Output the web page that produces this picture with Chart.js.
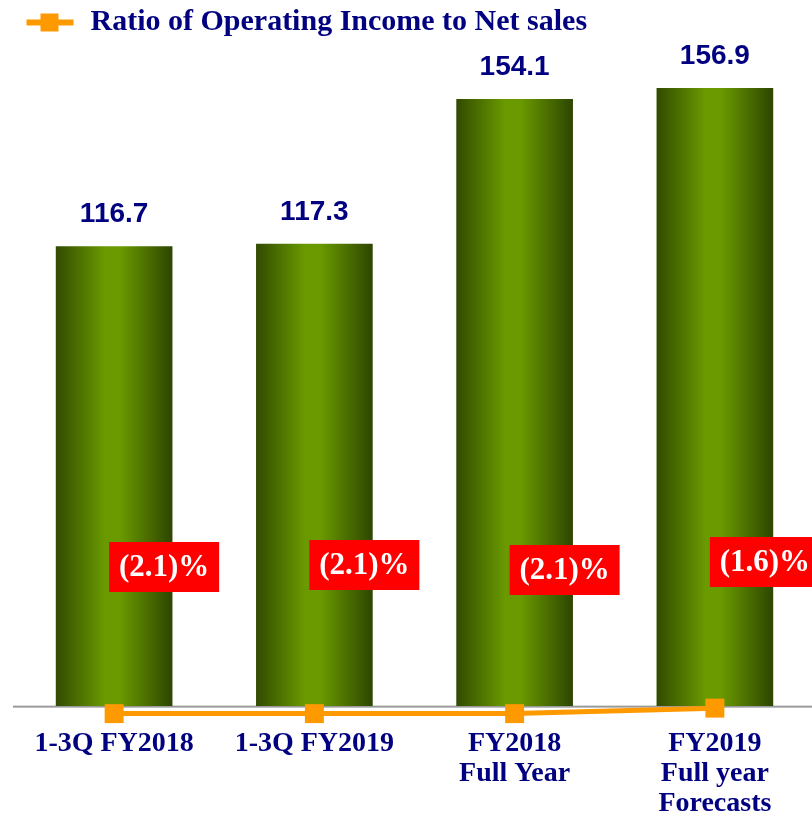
<!DOCTYPE html>
<html>
<head>
<meta charset="utf-8">
<script src="https://cdn.jsdelivr.net/npm/chart.js@4/dist/chart.umd.min.js"></script>
<style>
  html, body { margin: 0; padding: 0; background: #fff; overflow: hidden; }
  #ratioChart { display: block; }
</style>
</head>
<body>
<canvas id="ratioChart" width="816" height="819"></canvas>
<script>
// chart data
const categories = [['1-3Q FY2018'], ['1-3Q FY2019'], ['FY2018', 'Full Year'], ['FY2019', 'Full year', 'Forecasts']];
const netSales = [116.7, 117.3, 154.1, 156.9];
const ratioValues = [-2.1, -2.1, -2.1, -1.6];
const ratioLabel = 'Ratio of Operating Income to Net sales';

const NAVY = '#000080';
const ORANGE = '#ff9900';
const BAR_W = 116;

// legend marker: line with a square on it
const marker = document.createElement('canvas');
marker.width = 54;
marker.height = 20;
const mctx = marker.getContext('2d');
mctx.fillStyle = ORANGE;
mctx.fillRect(5, 7, 47, 6);
mctx.fillRect(19, 1, 18, 18);

function barGradient(context) {
    const chart = context.chart;
    if (!chart.scales.x || context.dataIndex === undefined) return '#6a9a00';
    const cx = chart.scales.x.getPixelForValue(context.dataIndex);
    if (!isFinite(cx)) return '#6a9a00';
    const g = chart.ctx.createLinearGradient(cx - BAR_W / 2, 0, cx + BAR_W / 2, 0);
    g.addColorStop(0, '#324b00');
    g.addColorStop(0.42, '#6a9a00');
    g.addColorStop(0.55, '#6a9a00');
    g.addColorStop(1, '#2e4600');
    return g;
}

// gray base line at zero
const baseLine = {
    id: 'baseLine',
    beforeDatasetsDraw(chart) {
        const c = chart.ctx;
        const y = chart.scales.y.getPixelForValue(0);
        c.save();
        c.fillStyle = '#9a9a9a';
        c.fillRect(chart.chartArea.left - 1, y, chart.chartArea.right - chart.chartArea.left + 1, 2);
        c.restore();
    }
};

// value labels above bars and red boxes for the ratio
const labels = {
    id: 'labels',
    afterDatasetsDraw(chart) {
        const c = chart.ctx;
        c.save();
        const bars = chart.getDatasetMeta(0).data;
        c.font = 'bold 28px "Liberation Sans", Arial, sans-serif';
        c.fillStyle = NAVY;
        c.textAlign = 'center';
        c.textBaseline = 'middle';
        bars.forEach((b, i) => {
            c.fillText(netSales[i].toFixed(1), b.x, b.y - 32);
        });

        const boxDy = [1, -1, 4, -4];
        c.font = 'bold 31px "Liberation Serif", "Times New Roman", serif';
        bars.forEach((b, i) => {
            const bx = b.x - 5, by = 541 + boxDy[i];
            c.fillStyle = '#ff0000';
            c.fillRect(bx, by, 110, 50);
            c.fillStyle = '#ffffff';
            c.fillText('(' + Math.abs(ratioValues[i]).toFixed(1) + ')%', bx + 55, by + 26);
        });
        c.restore();
    }
};

const ctx = document.getElementById('ratioChart').getContext('2d');
const ratioChart = new Chart(ctx, {
    type: 'bar',
    data: {
        labels: categories,
        datasets: [
            {
                type: 'bar',
                label: 'Net sales',
                data: netSales,
                backgroundColor: barGradient,
                barThickness: BAR_W,
                yAxisID: 'y',
                order: 2
            },
            {
                type: 'line',
                label: ratioLabel,
                data: ratioValues,
                borderColor: ORANGE,
                backgroundColor: ORANGE,
                borderWidth: 5,
                pointStyle: 'rect',
                pointRadius: 13.4,
                pointBorderWidth: 0,
                pointBackgroundColor: ORANGE,
                tension: 0,
                clip: false,
                yAxisID: 'y1',
                order: 1
            }
        ]
    },
    options: {
        responsive: false,
        animation: false,
        layout: { autoPadding: false, padding: { left: 14, right: 1, top: 0, bottom: 0 } },
        plugins: {
            tooltip: { enabled: false },
            legend: {
                position: 'top',
                align: 'start',
                labels: {
                    filter: item => item.datasetIndex === 1,
                    usePointStyle: true,
                    pointStyle: marker,
                    pointStyleWidth: 54,
                    padding: 7.5,
                    color: NAVY,
                    font: { family: '"Liberation Serif", "Times New Roman", serif', size: 30, weight: 'bold', lineHeight: '25px' }
                }
            }
        },
        scales: {
            x: {
                grid: { display: false, drawTicks: false },
                border: { display: false },
                ticks: {
                    padding: 0,
                    color: NAVY,
                    font: { family: '"Liberation Serif", "Times New Roman", serif', size: 28, weight: 'bold', lineHeight: '30px' },
                    maxRotation: 0,
                    autoSkip: false
                }
            },
            y: {
                display: false,
                min: -5.94,
                max: 167.3
            },
            y1: {
                display: false,
                min: -3.5,
                max: 58.54
            }
        }
    },
    plugins: [baseLine, labels]
});
</script>
</body>
</html>
